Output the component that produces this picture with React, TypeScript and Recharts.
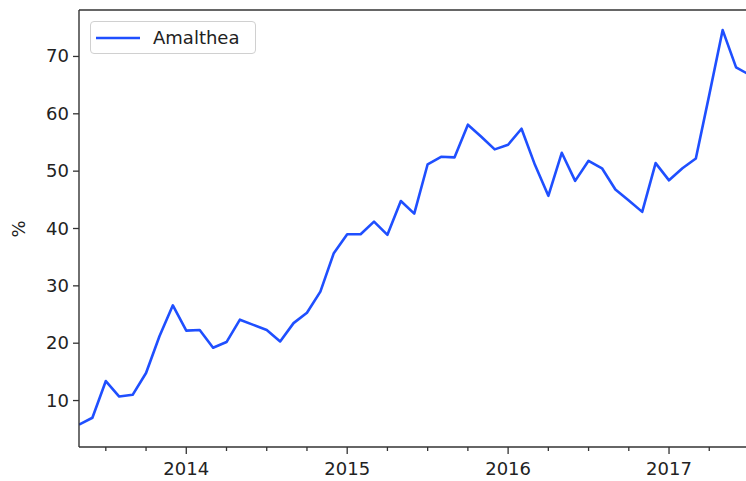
import React from "react";
import { Label, Legend, Line, LineChart, ReferenceLine, XAxis, YAxis } from "recharts";

const months = [
  "2013-05", "2013-06", "2013-07", "2013-08", "2013-09", "2013-10", "2013-11", "2013-12",
  "2014-01", "2014-02", "2014-03", "2014-04", "2014-05", "2014-06", "2014-07", "2014-08", "2014-09", "2014-10", "2014-11", "2014-12",
  "2015-01", "2015-02", "2015-03", "2015-04", "2015-05", "2015-06", "2015-07", "2015-08", "2015-09", "2015-10", "2015-11", "2015-12",
  "2016-01", "2016-02", "2016-03", "2016-04", "2016-05", "2016-06", "2016-07", "2016-08", "2016-09", "2016-10", "2016-11", "2016-12",
  "2017-01", "2017-02", "2017-03", "2017-04", "2017-05", "2017-06", "2017-07",
];

const amalthea = [
  5.8, 7.0, 13.4, 10.7, 11.0, 14.8, 21.2, 26.6,
  22.2, 22.3, 19.2, 20.2, 24.1, 23.2, 22.3, 20.3, 23.5, 25.3, 29.0, 35.7,
  39.0, 39.0, 41.2, 38.9, 44.8, 42.6, 51.2, 52.5, 52.4, 58.1, 56.0, 53.8,
  54.6, 57.4, 51.1, 45.7, 53.2, 48.3, 51.8, 50.5, 46.8, 44.9, 42.9, 51.4,
  48.4, 50.5, 52.2, 63.3, 74.6, 68.1, 66.8,
];

const yearTicks = ["2014-01", "2015-01", "2016-01", "2017-01"];
const yearLabels = ["2014", "2015", "2016", "2017"];
const quarterTicks = [
  "2013-07", "2013-10", "2014-04", "2014-07", "2014-10", "2015-04", "2015-07", "2015-10",
  "2016-04", "2016-07", "2016-10", "2017-04",
];
const yTicks = [10, 20, 30, 40, 50, 60, 70];

// months counted from Jan 2013
const toIdx = (m: string) => {
  const [y, mo] = m.split("-").map(Number);
  return (y - 2013) * 12 + (mo - 1);
};

const data = months.map((m, i) => ({ t: toIdx(m), value: amalthea[i] }));
const majorIdx = yearTicks.map(toIdx);
const allTicks = [...majorIdx, ...quarterTicks.map(toIdx)].sort((a, b) => a - b);

const FONT = "DejaVu Sans, sans-serif";
const INK = "#222";
const SPINE = "#333";
const BLUE = "#1f4fff";

function XTick(props: any) {
  const { x, y, payload } = props;
  const k = majorIdx.indexOf(payload.value);
  const major = k >= 0;
  return (
    <g>
      <line x1={x} x2={x} y1={y} y2={y + (major ? 7 : 4)} stroke={SPINE} strokeWidth={1.3} />
      {major && (
        <text x={x} y={y + 28} textAnchor="middle" fontSize={18} fill={INK} fontFamily={FONT}>
          {yearLabels[k]}
        </text>
      )}
    </g>
  );
}

function YTick(props: any) {
  const { x, y, payload } = props;
  return (
    <g>
      <line x1={x - 6} x2={x} y1={y} y2={y} stroke={SPINE} strokeWidth={1.3} />
      <text x={x - 10} y={y} dy={6} textAnchor="end" fontSize={18} fill={INK} fontFamily={FONT}>
        {payload.value}
      </text>
    </g>
  );
}

function LegendBox() {
  return (
    <div
      style={{
        width: 166,
        height: 33,
        boxSizing: "border-box",
        border: "1px solid #d0d0d0",
        borderRadius: 4,
        background: "#fff",
        display: "flex",
        alignItems: "center",
        fontFamily: FONT,
        fontSize: 18,
        color: INK,
      }}
    >
      <svg width={58} height={10} style={{ marginLeft: 4 }}>
        <line x1={1} x2={45} y1={5} y2={5} stroke={BLUE} strokeWidth={2.6} />
      </svg>
      <span>Amalthea</span>
    </div>
  );
}

export default function App() {
  return (
    <div style={{ position: "absolute", left: 0, top: 0, width: 746, height: 481, background: "#fff" }}>
      <LineChart width={746} height={481} data={data} margin={{ top: 10, right: 0, left: 0, bottom: 0 }}>
        <XAxis
          dataKey="t"
          type="number"
          domain={[4, 53.74]}
          allowDataOverflow
          ticks={allTicks}
          interval={0}
          height={34}
          tickSize={0}
          tickMargin={0}
          tickLine={false}
          tick={(p: any) => <XTick {...p} />}
          axisLine={{ stroke: SPINE, strokeWidth: 1.4 }}
        />
        <YAxis
          type="number"
          domain={[1.9, 78.1]}
          allowDataOverflow
          ticks={yTicks}
          interval={0}
          width={79}
          tickSize={0}
          tickMargin={0}
          tickLine={false}
          tick={(p: any) => <YTick {...p} />}
          axisLine={{ stroke: SPINE, strokeWidth: 1.4 }}
        >
          <Label
            content={() => (
              <text
                x={18}
                y={229}
                transform="rotate(-90 18 229)"
                textAnchor="middle"
                dominantBaseline="central"
                fontSize={18}
                fill={INK}
                fontFamily={FONT}
              >
                %
              </text>
            )}
          />
        </YAxis>
        <ReferenceLine y={78.1} stroke={SPINE} strokeWidth={1.4} />
        <Line
          type="linear"
          dataKey="value"
          stroke={BLUE}
          strokeWidth={2.6}
          strokeLinejoin="round"
          dot={false}
          isAnimationActive={false}
        />
        <Legend
          layout="vertical"
          verticalAlign="middle"
          align="center"
          content={() => <LegendBox />}
          wrapperStyle={{ position: "absolute", left: 90, top: 21, width: "auto", height: "auto" }}
        />
      </LineChart>
    </div>
  );
}
